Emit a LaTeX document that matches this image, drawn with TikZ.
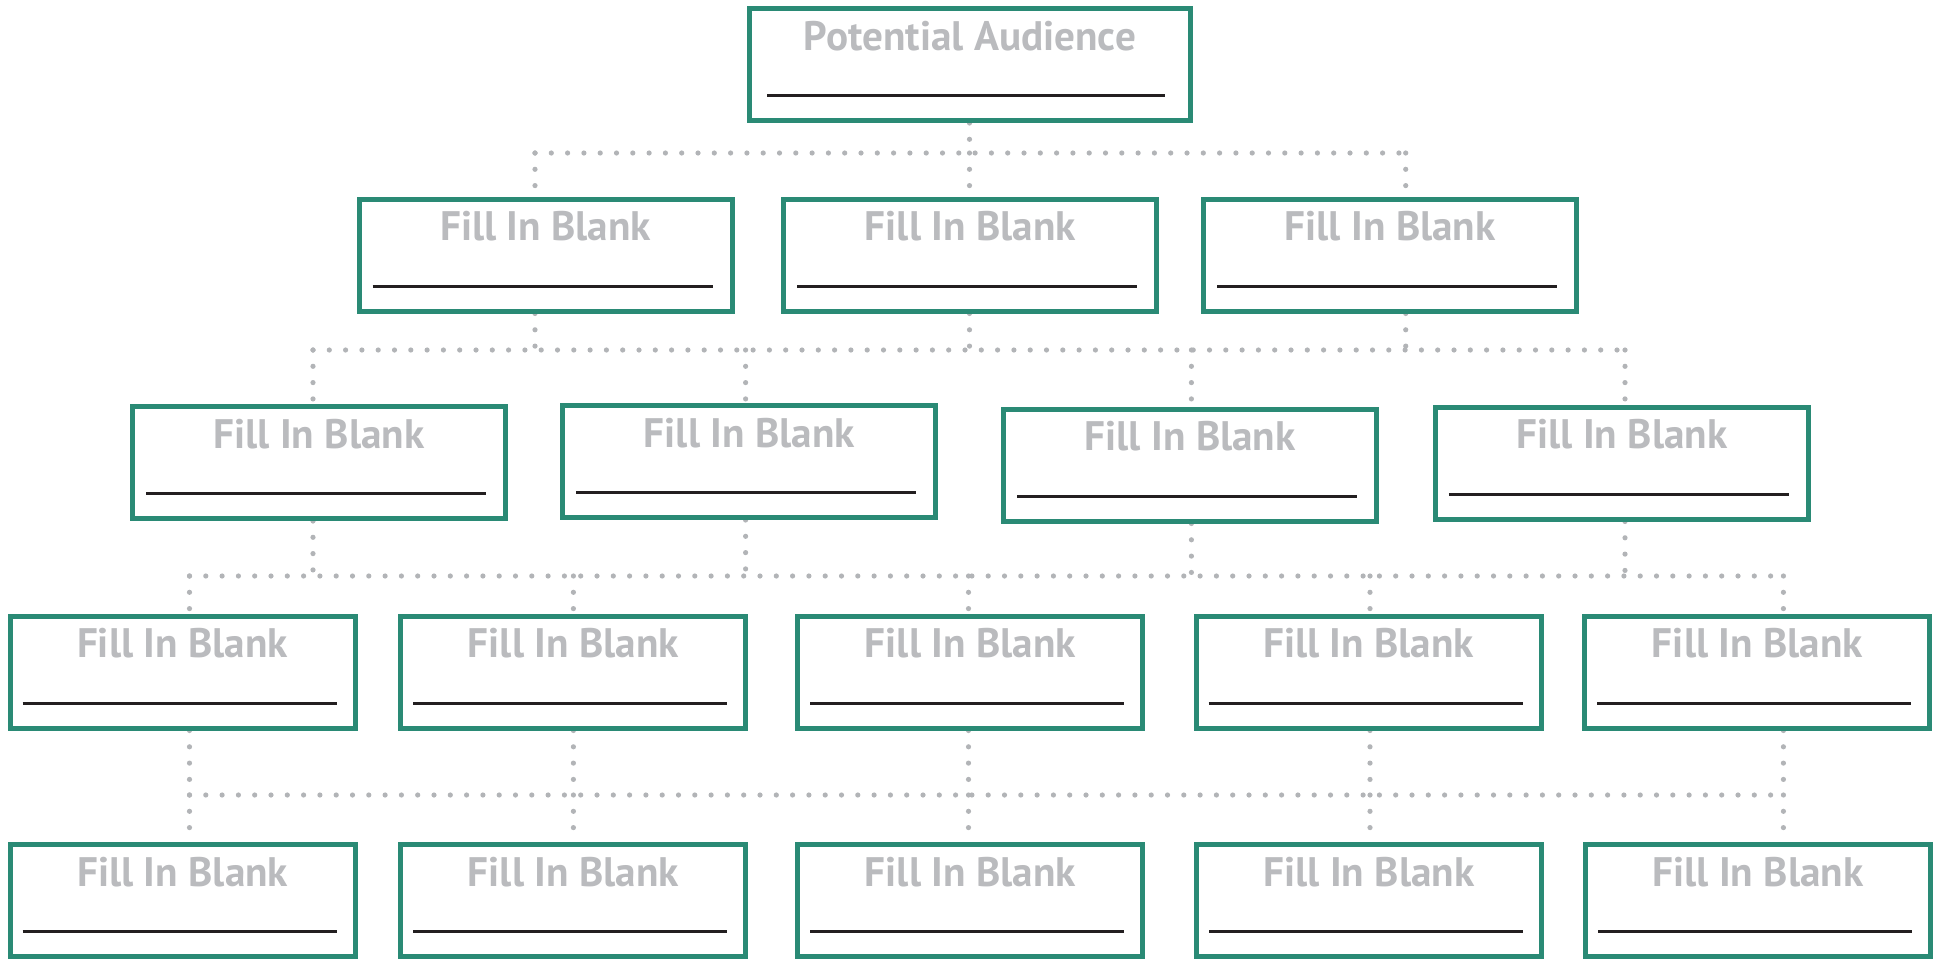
\documentclass[tikz,border=0pt]{standalone}
\usepackage{fontspec}
\setmainfont{PT Sans}
\definecolor{boxteal}{RGB}{42,138,117}
\definecolor{txtgray}{RGB}{186,187,190}
\definecolor{dotgray}{RGB}{178,180,183}
\definecolor{lineblack}{RGB}{35,31,32}
\pgfdeclarelayer{bg}
\pgfsetlayers{bg,main}
\newcommand\blankbox[6]{%
  \node[#3] (#1) at (#2) {};
  \node[title, anchor=base] (#1-t) at ([yshift=-22pt]#1.north) {#4};
  \draw[blank] ([xshift=#5, yshift=-44.75pt]#1.north west) -- ([xshift=-#6, yshift=-44.75pt]#1.north east);
}
\begin{document}
\begin{tikzpicture}[x=0.5pt,y=-0.5pt,
 bx/.style={draw=boxteal, line width=2.5pt, fill=white, minimum height=56pt, inner sep=0pt},
 wide/.style={bx, minimum width=186.5pt},
 narrow/.style={bx, minimum width=172.5pt},
 topbx/.style={bx, minimum width=220.5pt},
 title/.style={text=txtgray, font=\bfseries\fontsize{20.6}{20.6}\selectfont, inner sep=0pt},
 blank/.style={draw=lineblack, line width=1.5pt},
 dots/.style={draw=dotgray, line width=2.6pt, line cap=round, dash pattern=on 0pt off 8.15pt}]
\useasboundingbox (0,0) rectangle (1942,959);
% boxes
\blankbox{top}{970,64.5}{topbx}{Potential Audience}{10pt}{14pt}
\blankbox{a1}{545.6,255}{wide}{Fill In Blank}{8pt}{11pt}
\blankbox{a2}{970.4,255}{wide}{Fill In Blank}{8pt}{11pt}
\blankbox{a3}{1390.2,255}{wide}{Fill In Blank}{8pt}{11pt}
\blankbox{b1}{319,462.5}{wide}{Fill In Blank}{8pt}{11pt}
\blankbox{b2}{749.3,461.5}{wide}{Fill In Blank}{8pt}{11pt}
\blankbox{b3}{1190.2,465}{wide}{Fill In Blank}{8pt}{11pt}
\blankbox{b4}{1621.8,463}{wide}{Fill In Blank}{8pt}{11pt}
\blankbox{c1}{182.5,672}{narrow}{Fill In Blank}{7.5pt}{10.5pt}
\blankbox{c2}{573.4,672}{narrow}{Fill In Blank}{7.5pt}{10.5pt}
\blankbox{c3}{970.4,672}{narrow}{Fill In Blank}{7.5pt}{10.5pt}
\blankbox{c4}{1368.5,672}{narrow}{Fill In Blank}{7.5pt}{10.5pt}
\blankbox{c5}{1757.4,672}{narrow}{Fill In Blank}{7.5pt}{10.5pt}
\blankbox{d1}{182.7,900.5}{narrow}{Fill In Blank}{7.5pt}{10.5pt}
\blankbox{d2}{573.4,900.5}{narrow}{Fill In Blank}{7.5pt}{10.5pt}
\blankbox{d3}{970.4,900.5}{narrow}{Fill In Blank}{7.5pt}{10.5pt}
\blankbox{d4}{1369,900.5}{narrow}{Fill In Blank}{7.5pt}{10.5pt}
\blankbox{d5}{1758,900.5}{narrow}{Fill In Blank}{7.5pt}{10.5pt}
% junctions
\coordinate (ja1) at (535,153);
\coordinate (ja2) at (969.5,153);
\coordinate (ja3) at (1405.7,153);
\coordinate (jb1) at (313,350);
\coordinate (jb2) at (535,350);
\coordinate (jb3) at (745.6,350);
\coordinate (jb4) at (969.5,350);
\coordinate (jb5) at (1191.4,350);
\coordinate (jb6) at (1405.7,350);
\coordinate (jb7) at (1625,350);
\coordinate (jc1) at (189.5,576);
\coordinate (jc2) at (313,576);
\coordinate (jc3) at (573.4,576);
\coordinate (jc4) at (745.6,576);
\coordinate (jc5) at (968.5,576);
\coordinate (jc6) at (1191.4,576);
\coordinate (jc7) at (1370,576);
\coordinate (jc8) at (1625,576);
\coordinate (jc9) at (1783.4,576);
\coordinate (jd1) at (189.5,795);
\coordinate (jd2) at (573.4,795);
\coordinate (jd3) at (968.5,795);
\coordinate (jd4) at (1370,795);
\coordinate (jd5) at (1783.4,795);
\begin{pgfonlayer}{bg}
% level 0 -> 1
\draw[dots] (ja2 |- top.south) -- (ja2);
\draw[dots] (ja1) -- (ja3);
\draw[dots] (ja1) -- (ja1 |- a1.north);
\draw[dots] (ja2) -- (ja2 |- a2.north);
\draw[dots] (ja3) -- (ja3 |- a3.north);
% level 1 -> 2
\draw[dots] (jb2 |- a1.south) -- (jb2);
\draw[dots] (jb4 |- a2.south) -- (jb4);
\draw[dots] (jb6 |- a3.south) -- (jb6);
\draw[dots] (jb1) -- (jb7);
\draw[dots] (jb1) -- (jb1 |- b1.north);
\draw[dots] (jb3) -- (jb3 |- b2.north);
\draw[dots] (jb5) -- (jb5 |- b3.north);
\draw[dots] (jb7) -- (jb7 |- b4.north);
% level 2 -> 3
\draw[dots] (jc2 |- b1.south) -- (jc2);
\draw[dots] (jc4 |- b2.south) -- (jc4);
\draw[dots] (jc6 |- b3.south) -- (jc6);
\draw[dots] (jc8 |- b4.south) -- (jc8);
\draw[dots] (jc1) -- (jc9);
\draw[dots] (jc1) -- (jc1 |- c1.north);
\draw[dots] (jc3) -- (jc3 |- c2.north);
\draw[dots] (jc5) -- (jc5 |- c3.north);
\draw[dots] (jc7) -- (jc7 |- c4.north);
\draw[dots] (jc9) -- (jc9 |- c5.north);
% level 3 -> 4
\draw[dots] (jd1 |- c1.south) -- (jd1);
\draw[dots] (jd2 |- c2.south) -- (jd2);
\draw[dots] (jd3 |- c3.south) -- (jd3);
\draw[dots] (jd4 |- c4.south) -- (jd4);
\draw[dots] (jd5 |- c5.south) -- (jd5);
\draw[dots] (jd1) -- (jd5);
\draw[dots] (jd1) -- (jd1 |- d1.north);
\draw[dots] (jd2) -- (jd2 |- d2.north);
\draw[dots] (jd3) -- (jd3 |- d3.north);
\draw[dots] (jd4) -- (jd4 |- d4.north);
\draw[dots] (jd5) -- (jd5 |- d5.north);
\end{pgfonlayer}
\end{tikzpicture}
\end{document}
